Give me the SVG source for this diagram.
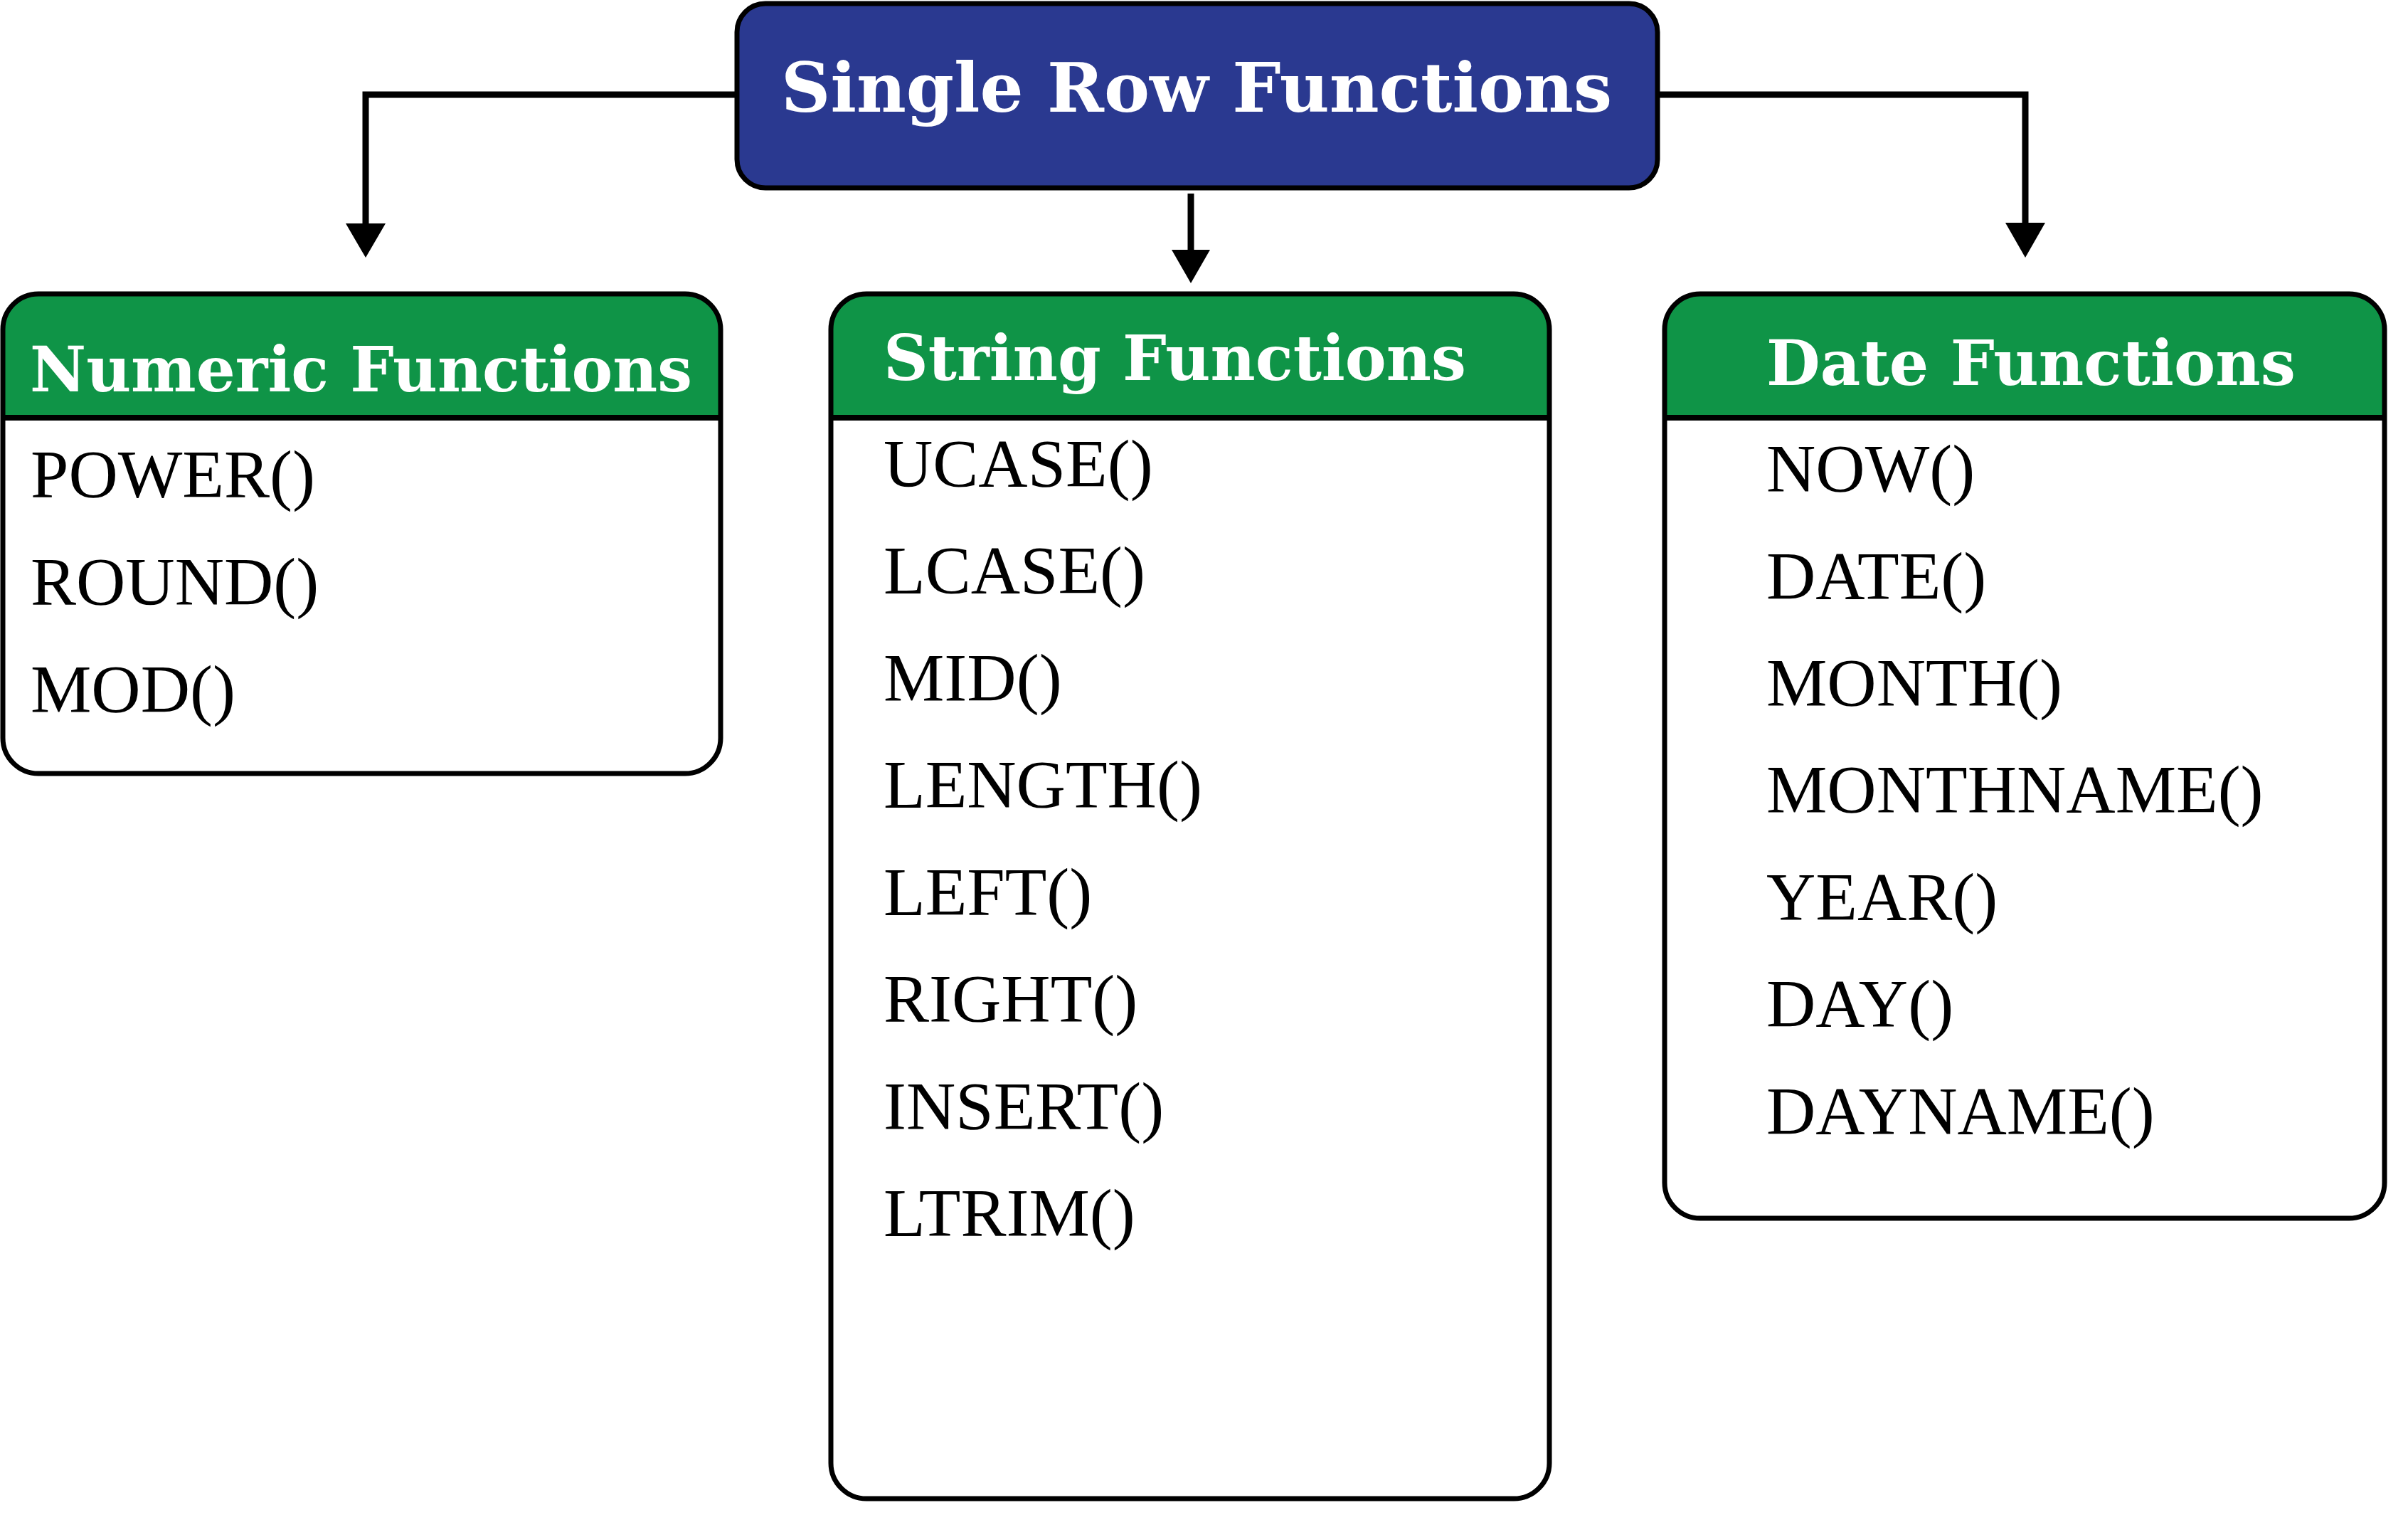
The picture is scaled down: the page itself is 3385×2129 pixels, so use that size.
<svg xmlns="http://www.w3.org/2000/svg" width="3385" height="2129" viewBox="0 0 3385 2129">
  <style>
    .box { fill: none; stroke: #000; stroke-width: 7; }
    .sep { stroke: #000; stroke-width: 8; }
    .hdr { font-family: "DejaVu Serif", "Liberation Serif", serif; font-weight: bold; fill: #fff; font-size: 87px; }
    .title { font-family: "DejaVu Serif", "Liberation Serif", serif; font-weight: bold; fill: #fff; font-size: 95px; }
    .item { font-family: "Liberation Serif", "Times New Roman", serif; fill: #000; font-size: 96px; }
    .conn { fill: none; stroke: #000; stroke-width: 9; }
    .head { fill: #000; }
  </style>
  <defs>
    <clipPath id="clipNum"><rect x="4" y="413" width="1009" height="674" rx="50" ry="50"/></clipPath>
    <clipPath id="clipStr"><rect x="1168" y="413" width="1010" height="1693" rx="50" ry="50"/></clipPath>
    <clipPath id="clipDate"><rect x="2340" y="413" width="1012" height="1299" rx="50" ry="50"/></clipPath>
  </defs>
  <rect width="3385" height="2129" fill="#fff"/>

  <g id="connectors">
    <polyline class="conn" points="1036,133 514,133 514,316"/>
    <polygon class="head" points="486,314 542,314 514,362"/>
    <line class="conn" x1="1674" y1="272" x2="1674" y2="353"/>
    <polygon class="head" points="1647,351 1701,351 1674,398"/>
    <polyline class="conn" points="2330,133 2847,133 2847,315"/>
    <polygon class="head" points="2819,313 2875,313 2847,362"/>
  </g>

  <g id="single-row-functions">
    <rect x="1036" y="5" width="1294" height="259" rx="40" ry="40" fill="#2A3990" stroke="#000" stroke-width="7"/>
    <text class="title" x="1098" y="157" textLength="1168" lengthAdjust="spacingAndGlyphs">Single Row Functions</text>
  </g>

  <g id="numeric-functions">
    <rect x="4" y="413" width="1009" height="674" rx="50" ry="50" fill="#fff"/>
    <rect x="0" y="400" width="1020" height="187" fill="#0F9447" clip-path="url(#clipNum)"/>
    <rect class="box" x="4" y="413" width="1009" height="674" rx="50" ry="50"/>
    <line class="sep" x1="4" y1="587" x2="1013" y2="587"/>
    <text class="hdr" x="42" y="550" textLength="931" lengthAdjust="spacingAndGlyphs">Numeric Functions</text>
    <text class="item" x="43" y="699">POWER()</text>
    <text class="item" x="43" y="850">ROUND()</text>
    <text class="item" x="43" y="1001">MOD()</text>
  </g>

  <g id="string-functions">
    <rect x="1168" y="413" width="1010" height="1693" rx="50" ry="50" fill="#fff"/>
    <rect x="1160" y="400" width="1030" height="187" fill="#0F9447" clip-path="url(#clipStr)"/>
    <rect class="box" x="1168" y="413" width="1010" height="1693" rx="50" ry="50"/>
    <line class="sep" x1="1168" y1="587" x2="2178" y2="587"/>
    <text class="hdr" x="1242" y="534" textLength="819" lengthAdjust="spacingAndGlyphs">String Functions</text>
    <text class="item" x="1242" y="684">UCASE()</text>
    <text class="item" x="1242" y="834">LCASE()</text>
    <text class="item" x="1242" y="985">MID()</text>
    <text class="item" x="1242" y="1135">LENGTH()</text>
    <text class="item" x="1242" y="1286">LEFT()</text>
    <text class="item" x="1242" y="1436">RIGHT()</text>
    <text class="item" x="1242" y="1587">INSERT()</text>
    <text class="item" x="1242" y="1737">LTRIM()</text>
  </g>

  <g id="date-functions">
    <rect x="2340" y="413" width="1012" height="1299" rx="50" ry="50" fill="#fff"/>
    <rect x="2330" y="400" width="1030" height="187" fill="#0F9447" clip-path="url(#clipDate)"/>
    <rect class="box" x="2340" y="413" width="1012" height="1299" rx="50" ry="50"/>
    <line class="sep" x1="2340" y1="587" x2="3352" y2="587"/>
    <text class="hdr" x="2483" y="541" textLength="744" lengthAdjust="spacingAndGlyphs">Date Functions</text>
    <text class="item" x="2483" y="691">NOW()</text>
    <text class="item" x="2483" y="842">DATE()</text>
    <text class="item" x="2483" y="992">MONTH()</text>
    <text class="item" x="2483" y="1142">MONTHNAME()</text>
    <text class="item" x="2483" y="1293">YEAR()</text>
    <text class="item" x="2483" y="1443">DAY()</text>
    <text class="item" x="2483" y="1594">DAYNAME()</text>
  </g>
</svg>
